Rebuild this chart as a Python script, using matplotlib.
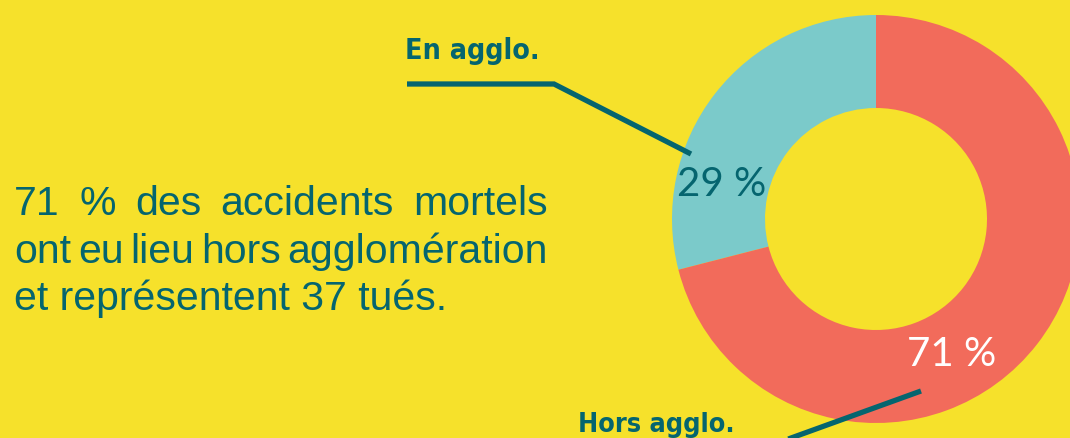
import matplotlib
matplotlib.use("Agg")
import matplotlib.pyplot as plt

# ---- data ----
categories = ["En agglo.", "Hors agglo."]
shares = [29, 71]
share_labels = ["29 %", "71 %"]
text_lines = ["71 % des accidents mortels",
              "ont eu lieu hors agglomération",
              "et représentent 37 tués."]

BG = "#F6E12B"
TEAL = "#7BCACA"
RED = "#F26B5B"
DARK = "#05656F"

W, H = 1070, 438
fig = plt.figure(figsize=(W / 100, H / 100), dpi=100)
fig.patch.set_facecolor(BG)
ax = fig.add_axes([0, 0, 1, 1])

def Y(y):
    return H - y

# donut
cx, cy, R, r = 876, 219, 204, 111
ax.pie(shares, colors=[TEAL, RED], startangle=90, counterclock=True,
       center=(cx, Y(cy)), radius=R, frame=True,
       wedgeprops=dict(width=R - r, linewidth=0))
ax.set_xlim(0, W)
ax.set_ylim(0, H)
ax.set_aspect("equal")
ax.axis("off")

# percentage labels
ax.text(722, Y(184), share_labels[0], color=DARK, fontsize=29,
        family="Lato", fontweight="normal", ha="center", va="center")
ax.text(952, Y(355), share_labels[1], color="white", fontsize=29,
        family="Lato", fontweight="normal", ha="center", va="center")

# category labels + leader lines
cat_font = dict(family="DejaVu Sans", fontstretch="condensed",
                fontweight="bold", fontsize=22, color=DARK)
fig.canvas.draw()
renderer = fig.canvas.get_renderer()

def fit_text(x, yb, s, target_w, **kw):
    t = ax.text(x, yb, s, ha="left", va="baseline", **kw)
    w = t.get_window_extent(renderer).width
    if w > target_w:
        t.set_fontsize(kw["fontsize"] * target_w / w)
    return t

fit_text(405, Y(59), categories[0], 134, **cat_font)
ax.plot([407, 554, 691], [Y(84), Y(84), Y(154)], color=DARK, lw=3.8,
        solid_capstyle="butt", solid_joinstyle="miter")
fit_text(578, Y(432), categories[1], 156, **cat_font)
ax.plot([921, 780], [Y(391), Y(442)], color=DARK, lw=3.8,
        solid_capstyle="butt", clip_on=False)

# justified paragraph
x0, x1 = 14, 548
baselines = [215, 263, 310]
fs = 29.5
body = dict(family="Liberation Sans", fontsize=fs, color=DARK, va="baseline", ha="left")

def width(s):
    t = ax.text(0, 0, s, **body)
    w = t.get_window_extent(renderer).width
    t.remove()
    return w

for i, line in enumerate(text_lines):
    yb = Y(baselines[i])
    if i == len(text_lines) - 1:
        ax.text(x0, yb, line, **body)
        continue
    words = line.split(" ")
    ws = [width(w) for w in words]
    gap = (x1 - x0 - sum(ws)) / (len(words) - 1)
    x = x0
    for w, wd in zip(words, ws):
        ax.text(x, yb, w, **body)
        x += wd + gap

fig.savefig("out.png", dpi=100, facecolor=BG)
